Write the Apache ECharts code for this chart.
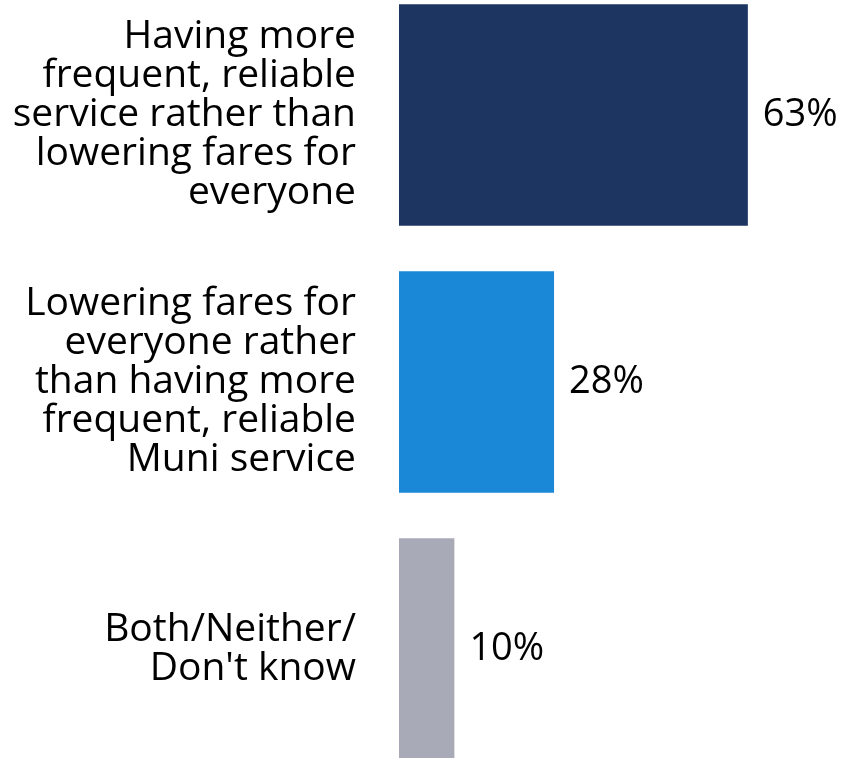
<!DOCTYPE html>
<html><head><meta charset="utf-8">
<script src="https://cdn.jsdelivr.net/npm/echarts@6/dist/echarts.min.js"></script>
<style>html,body{margin:0;padding:0;background:#fff}#c{width:845px;height:758px}</style>
</head><body><div id="c"></div>
<script>
const categories = [
  "Having more\nfrequent, reliable\nservice rather than\nlowering fares for\neveryone",
  "Lowering fares for\neveryone rather\nthan having more\nfrequent, reliable\nMuni service",
  "Both/Neither/\nDon't know"
];
const values = [63, 28, 10];
const colors = ["#1D3661", "#1A87D7", "#A9AAB8"];

const chart = echarts.init(document.getElementById('c'), null, {renderer: 'canvas'});
chart.setOption({
  animation: false,
  grid: {left: 399, right: 3, top: -18.5, bottom: -24.5, containLabel: false, outerBoundsMode: 'none'},
  xAxis: {type: 'value', min: 0, max: 80, show: false},
  yAxis: {
    type: 'category', data: categories, inverse: true,
    axisLine: {show: false}, axisTick: {show: false}, splitLine: {show: false},
    axisLabel: {margin: 43, color: '#000', fontFamily: 'Open Sans', fontSize: 39, lineHeight: 39, align: 'right'}
  },
  series: [{
    type: 'bar', barCategoryGap: '17%',
    data: values.map((v, i) => ({value: v, itemStyle: {color: colors[i]}})),
    label: {show: true, position: 'right', distance: 15, formatter: '{c}%', color: '#000', fontFamily: 'Open Sans', fontSize: 38}
  }]
});
</script></body></html>
